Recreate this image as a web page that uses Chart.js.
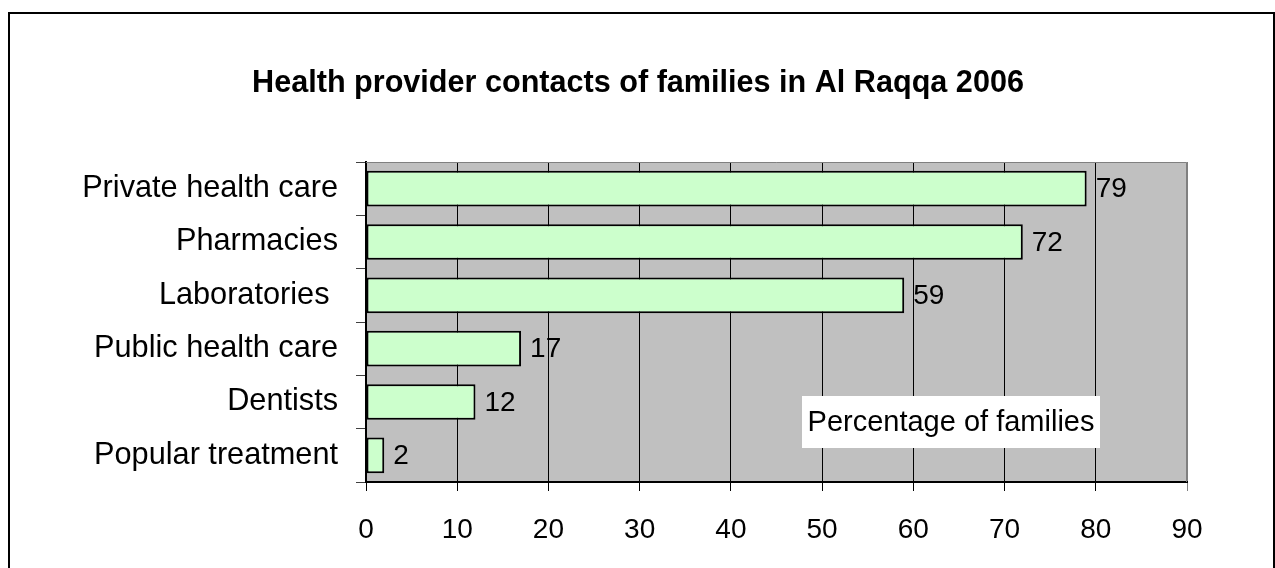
<!DOCTYPE html>
<html>
<head>
<meta charset="utf-8">
<script src="https://cdn.jsdelivr.net/npm/chart.js@4/dist/chart.umd.min.js"></script>
<style>
  html, body { margin: 0; padding: 0; background: #ffffff; }
  canvas { display: block; }
</style>
</head>
<body>
<canvas id="chart" width="1275" height="568"></canvas>
<script>
// Health provider contacts, share of families (%)
const providers = ['Private health care', 'Pharmacies', 'Laboratories ', 'Public health care', 'Dentists', 'Popular treatment'];
const percentages = [79, 72, 59, 17, 12, 2];
const xTicks = [0, 10, 20, 30, 40, 50, 60, 70, 80, 90];
const chartTitle = 'Health provider contacts of families in Al Raqqa 2006';
const axisNote = 'Percentage of families';

const FONT = '"Liberation Sans", Arial, sans-serif';

// Grey plot area, drawn under the grid lines
const plotBackground = {
  id: 'plotBackground',
  beforeDraw(chart) {
    const { ctx, chartArea: a } = chart;
    ctx.save();
    ctx.fillStyle = '#c0c0c0';
    ctx.fillRect(a.left, a.top, a.right - a.left, a.bottom - a.top);
    ctx.restore();
  }
};

// Title, value labels next to each bar, the note box and the outer frame
const overlays = {
  id: 'overlays',
  afterDatasetsDraw(chart) {
    const { ctx, chartArea: a } = chart;
    ctx.save();
    // grey top/right edge of the plot
    ctx.strokeStyle = '#808080';
    ctx.lineWidth = 1;
    ctx.beginPath();
    ctx.moveTo(a.left, a.top + 0.5);
    ctx.lineTo(a.right - 0.5, a.top + 0.5);
    ctx.lineTo(a.right - 0.5, a.bottom);
    ctx.stroke();

    // value labels
    ctx.fillStyle = '#000000';
    ctx.font = '28px ' + FONT;
    ctx.textAlign = 'left';
    ctx.textBaseline = 'middle';
    const meta = chart.getDatasetMeta(0);
    meta.data.forEach((bar, i) => {
      ctx.fillText(String(percentages[i]), bar.x + 9, bar.y + 1);
    });

    // note box
    const bx = 802, by = 396, bw = 298, bh = 52;
    ctx.fillStyle = '#ffffff';
    ctx.fillRect(bx, by, bw, bh);
    ctx.fillStyle = '#000000';
    ctx.font = '29px ' + FONT;
    ctx.textAlign = 'center';
    ctx.textBaseline = 'alphabetic';
    ctx.fillText(axisNote, bx + bw / 2, 431);
    ctx.restore();
  },
  afterDraw(chart) {
    const { ctx } = chart;
    ctx.save();
    // chart title
    ctx.fillStyle = '#000000';
    ctx.font = 'bold 30.6px ' + FONT;
    ctx.textAlign = 'center';
    ctx.textBaseline = 'middle';
    ctx.fillText(chartTitle, 638, 84);

    // outer frame
    ctx.strokeStyle = '#000000';
    ctx.lineWidth = 2;
    ctx.beginPath();
    ctx.moveTo(9, 600);
    ctx.lineTo(9, 13);
    ctx.lineTo(1274, 13);
    ctx.lineTo(1274, 600);
    ctx.stroke();
    ctx.restore();
  }
};

new Chart(document.getElementById('chart'), {
  type: 'bar',
  data: {
    labels: providers,
    datasets: [{
      data: percentages,
      backgroundColor: '#ccffcc',
      borderColor: '#000000',
      borderWidth: 2,
      borderSkipped: false,
      barPercentage: 0.67,
      categoryPercentage: 1.0
    }]
  },
  options: {
    indexAxis: 'y',
    responsive: false,
    animation: false,
    devicePixelRatio: 1,
    layout: { padding: { left: 10, right: 88, top: 162, bottom: 0 } },
    plugins: {
      legend: { display: false },
      tooltip: { enabled: false },
      title: { display: false }
    },
    scales: {
      x: {
        type: 'linear',
        min: 0,
        max: 90,
        afterBuildTicks(scale) { scale.ticks = xTicks.map(v => ({ value: v })); },
        afterFit(scale) { scale.height = 86; },
        grid: {
          color: (c) => (c.tick && c.tick.value === 90 ? '#808080' : '#000000'),
          lineWidth: 1,
          tickLength: 9,
          drawOnChartArea: true,
          drawTicks: true
        },
        border: { display: true, color: '#000000', width: 2 },
        ticks: {
          color: '#000000',
          font: { family: FONT, size: 28 },
          padding: 22
        }
      },
      y: {
        afterFit(scale) { scale.width = 356; },
        grid: {
          offset: true,
          drawOnChartArea: false,
          drawTicks: true,
          tickLength: 10,
          color: '#404040',
          lineWidth: 1
        },
        border: { display: true, color: '#000000', width: 2 },
        ticks: {
          color: '#000000',
          font: { family: FONT, size: 30.7 },
          padding: 18,
          autoSkip: false
        }
      }
    }
  },
  plugins: [plotBackground, overlays]
});
</script>
</body>
</html>
